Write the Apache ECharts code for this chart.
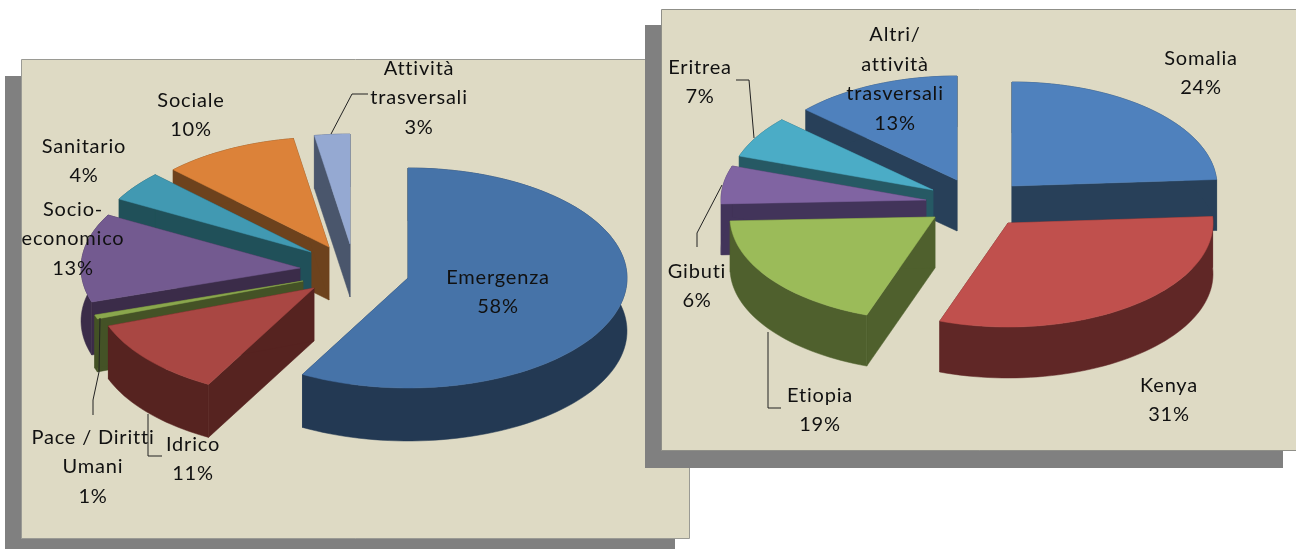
<!DOCTYPE html>
<html>
<head>
<meta charset="utf-8">
<style>
  html, body { margin: 0; padding: 0; background: #fff; }
  #chart { width: 1296px; height: 549px; }
</style>
<script src="https://cdn.jsdelivr.net/npm/echarts@6/dist/echarts.min.js"></script>
</head>
<body>
<div id="chart"></div>
<script>
// settori (in %)
const settoriNames = ['Emergenza', 'Idrico', 'Pace / Diritti\nUmani', 'Socio-\neconomico', 'Sanitario', 'Sociale', 'Attività\ntrasversali'];
const settoriValues = [58, 11.4, 0.6, 13, 4.4, 10, 2.6];

// paesi
const paesiNames = ['Somalia', 'Kenya', 'Etiopia', 'Gibuti', 'Eritrea', 'Altri/\nattività\ntrasversali'];
const paesiValues = [24, 31.4, 19, 5.9, 6.5, 13.2];

// colori e layout
const settoriTop = ['#4673a8', '#a94743', '#8aa74d', '#735a90', '#4199b2', '#dc8239', '#95a9d2'];
const settoriWall = ['#233953', '#562320', '#445226', '#3b2c49', '#205059', '#6d421d', '#4a566c'];
const paesiTop = ['#4f81bd', '#c0504d', '#9bbb59', '#8064a2', '#4bacc6', '#4f81bd'];
const paesiWall = ['#284059', '#602726', '#4f602d', '#42345a', '#265964', '#284059'];

const settoriExplode = [[0, 0], [-94, 10], [-105, 3], [-108, -10], [-97, -26], [-79, -31], [-58, -34]];
const paesiExplode = [[0, 0], [-4, 37], [-77, 31], [-86, 14], [-79, 4], [-55, -6]];

const settoriLabelPos = [[498, 292], [193, 459], [93, 467], [73, 239], [84, 161], [191, 115], [419, 98]];
const paesiLabelPos = [[1201, 73], [1169, 400], [820, 410], [697, 286], [700, 82], [895, 79]];

const settoriLeaders = [null,
  [[148, 414], [148, 456], [162, 456]],
  [[100, 318], [99, 372], [93, 400], [93, 415]],
  null, null, null,
  [[331, 134], [352, 94], [368, 94]]];
const paesiLeaders = [null, null,
  [[768, 332], [768, 408], [781, 408]],
  [[722, 185], [697, 233], [697, 247]],
  [[736, 80], [749, 80], [754, 138]],
  null];

const LABEL_FONT = '20px Lato, "Noto Sans", sans-serif';
const LINE_H = 29.5;

// il testo dell'originale e' piu' spaziato: echarts non ha letterSpacing
const fillTextOrig = CanvasRenderingContext2D.prototype.fillText;
CanvasRenderingContext2D.prototype.fillText = function (t, x, y, w) {
  this.letterSpacing = '0.8px';
  return w === undefined ? fillTextOrig.call(this, t, x, y) : fillTextOrig.call(this, t, x, y, w);
};

// punto sull'ellisse: angolo in gradi, orario da ore 12
function ellipsePoint(cx, cy, rx, ry, deg) {
  const a = deg * Math.PI / 180;
  return [cx + Math.sin(a) * rx, cy - Math.cos(a) * ry];
}

function pieSeries(cfg) {
  const total = cfg.values.reduce((s, v) => s + v, 0);
  const n = cfg.values.length;
  const starts = [];
  cfg.values.reduce((acc, v, i) => { starts[i] = acc; return acc + v; }, 0);

  return {
    type: 'custom',
    coordinateSystem: 'none',
    silent: true,
    animation: false,
    data: cfg.values.map((v, i) => ({ value: [i, v], name: cfg.names[i] })),
    renderItem: function (params, api) {
      const i = api.value(0);
      const v = api.value(1);
      const from = starts[i] / total * 360;
      const to = (starts[i] + v) / total * 360;
      const cx = cfg.cx + cfg.explode[i][0];
      const cy = cfg.cy + cfg.explode[i][1];

      // arco campionato a partire dal valore
      const steps = Math.max(4, Math.ceil((to - from) / 2));
      const arc = [];
      for (let k = 0; k <= steps; k++) {
        arc.push(ellipsePoint(cx, cy, cfg.rx, cfg.ry, from + (to - from) * k / steps));
      }
      const down = p => [p[0], p[1] + cfg.depth];
      const apex = [cx, cy];
      const first = arc[0];
      const last = arc[arc.length - 1];

      // ordine: prima il settore 0, poi dall'ultimo verso il secondo
      const rank = i === 0 ? 0 : n - i;
      const z = rank * 10;
      const wallStyle = { fill: cfg.wall[i], stroke: cfg.wall[i], lineWidth: 0.5 };

      const children = [
        { type: 'polygon', z2: z, shape: { points: [apex, first, down(first), down(apex)] }, style: wallStyle },
        { type: 'polygon', z2: z, shape: { points: [apex, last, down(last), down(apex)] }, style: wallStyle },
        { type: 'polygon', z2: z + 1, shape: { points: arc.concat(arc.map(down).reverse()) }, style: wallStyle },
        { type: 'polygon', z2: z + 2, shape: { points: [apex].concat(arc) }, style: { fill: cfg.top[i], stroke: cfg.top[i], lineWidth: 0.5 } },
        {
          type: 'text',
          z2: 200,
          style: {
            text: cfg.names[i] + '\n' + Math.round(v) + '%',
            x: cfg.labelPos[i][0],
            y: cfg.labelPos[i][1],
            align: 'center',
            verticalAlign: 'middle',
            font: LABEL_FONT,
            lineHeight: LINE_H,
            fill: '#111111'
          }
        }
      ];
      if (cfg.leaders[i]) {
        children.push({
          type: 'polyline',
          z2: 190,
          shape: { points: cfg.leaders[i] },
          style: { fill: null, stroke: '#222222', lineWidth: 1 }
        });
      }
      return { type: 'group', children: children };
    }
  };
}

function panel(x, y, w, h, fill, stroke) {
  return {
    type: 'rect',
    shape: { x: x, y: y, width: w, height: h },
    style: { fill: fill, stroke: stroke || null, lineWidth: stroke ? 1 : 0 },
    silent: true
  };
}

const chart = echarts.init(document.getElementById('chart'));

chart.setOption({
  backgroundColor: '#ffffff',
  animation: false,
  graphic: {
    elements: [
      panel(5, 76, 670, 473, '#808080'),
      panel(21.5, 59.5, 668, 479, '#dedac4', '#9a9a94'),
      panel(645, 25, 638, 443, '#808080'),
      panel(661.5, 9.5, 640, 441, '#dedac4', '#8f8f88')
    ]
  },
  series: [
    pieSeries({
      names: settoriNames, values: settoriValues, top: settoriTop, wall: settoriWall,
      explode: settoriExplode, labelPos: settoriLabelPos, leaders: settoriLeaders,
      cx: 408, cy: 278, rx: 219, ry: 110, depth: 53
    }),
    pieSeries({
      names: paesiNames, values: paesiValues, top: paesiTop, wall: paesiWall,
      explode: paesiExplode, labelPos: paesiLabelPos, leaders: paesiLeaders,
      cx: 1012, cy: 186, rx: 205, ry: 104, depth: 51
    })
  ]
});

window.addEventListener('resize', () => chart.resize());
</script>
</body>
</html>
